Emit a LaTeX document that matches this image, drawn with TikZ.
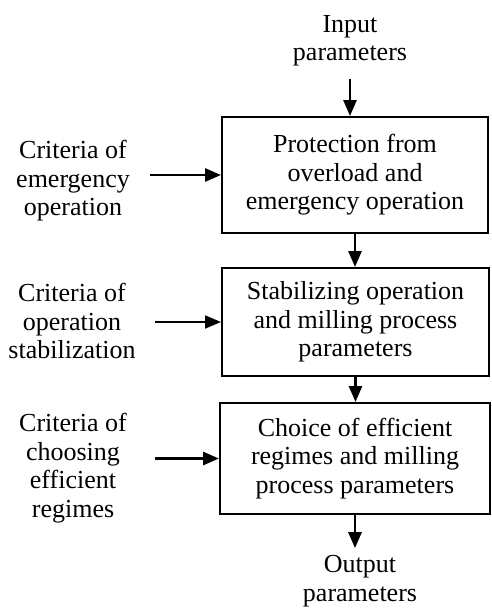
\documentclass[tikz,border=0pt]{standalone}
\usepackage{fontspec}
\setmainfont{Liberation Serif}
\usetikzlibrary{arrows.meta,positioning}

\begin{document}
\begin{tikzpicture}[x=1pt, y=-1pt, >={Triangle[length=16pt,width=13pt]},
    box/.style={draw, line width=2pt, inner sep=0pt, align=center,
                font=\fontsize{26}{28.5}\selectfont},
    crit/.style={inner sep=0pt, align=center, font=\fontsize{26}{28.5}\selectfont},
    flow/.style={->, line width=2.8pt}]
  \useasboundingbox (0,0) rectangle (491,610);
  % control levels
  \node[box, minimum width=266pt, minimum height=116pt] (prot) at (355,175)
    {Protection from\\overload and\\emergency operation};
  \node[box, minimum width=267pt, minimum height=108pt] (stab) at (355.5,322)
    {Stabilizing operation\\and milling process\\parameters};
  \node[box, minimum width=270pt, minimum height=111pt] (choice) at (355,458.5)
    {Choice of efficient\\regimes and milling\\process parameters};
  % inputs and outputs
  \node[crit] (input) at (350,41) {Input\\parameters};
  \node[crit] (output) at (360,581) {Output\\parameters};
  \node[crit] (crit1) at (73,181) {Criteria of\\emergency\\operation};
  \node[crit] (crit2) at (72,321) {Criteria of\\operation\\stabilization};
  \node[crit] (crit3) at (73,468) {Criteria of\\choosing\\efficient\\regimes};
  \draw[flow, shorten <=12pt] (input) -- (input |- prot.north);
  \draw[flow] (prot.south) -- (prot.south |- stab.north);
  \draw[flow] (stab.south) -- (stab.south |- choice.north);
  \draw[flow, shorten >=7pt] (choice.south) -- (choice.south |- output.north);
  \draw[flow, shorten <=20pt] (crit1.east |- prot.west) -- (prot.west);
  \draw[flow, line width=1.8pt, shorten <=19pt] (crit2.east |- stab.west) -- (stab.west);
  \draw[flow, shorten <=28pt] (crit3.east |- choice.west) -- (choice.west);
\end{tikzpicture}
\end{document}
